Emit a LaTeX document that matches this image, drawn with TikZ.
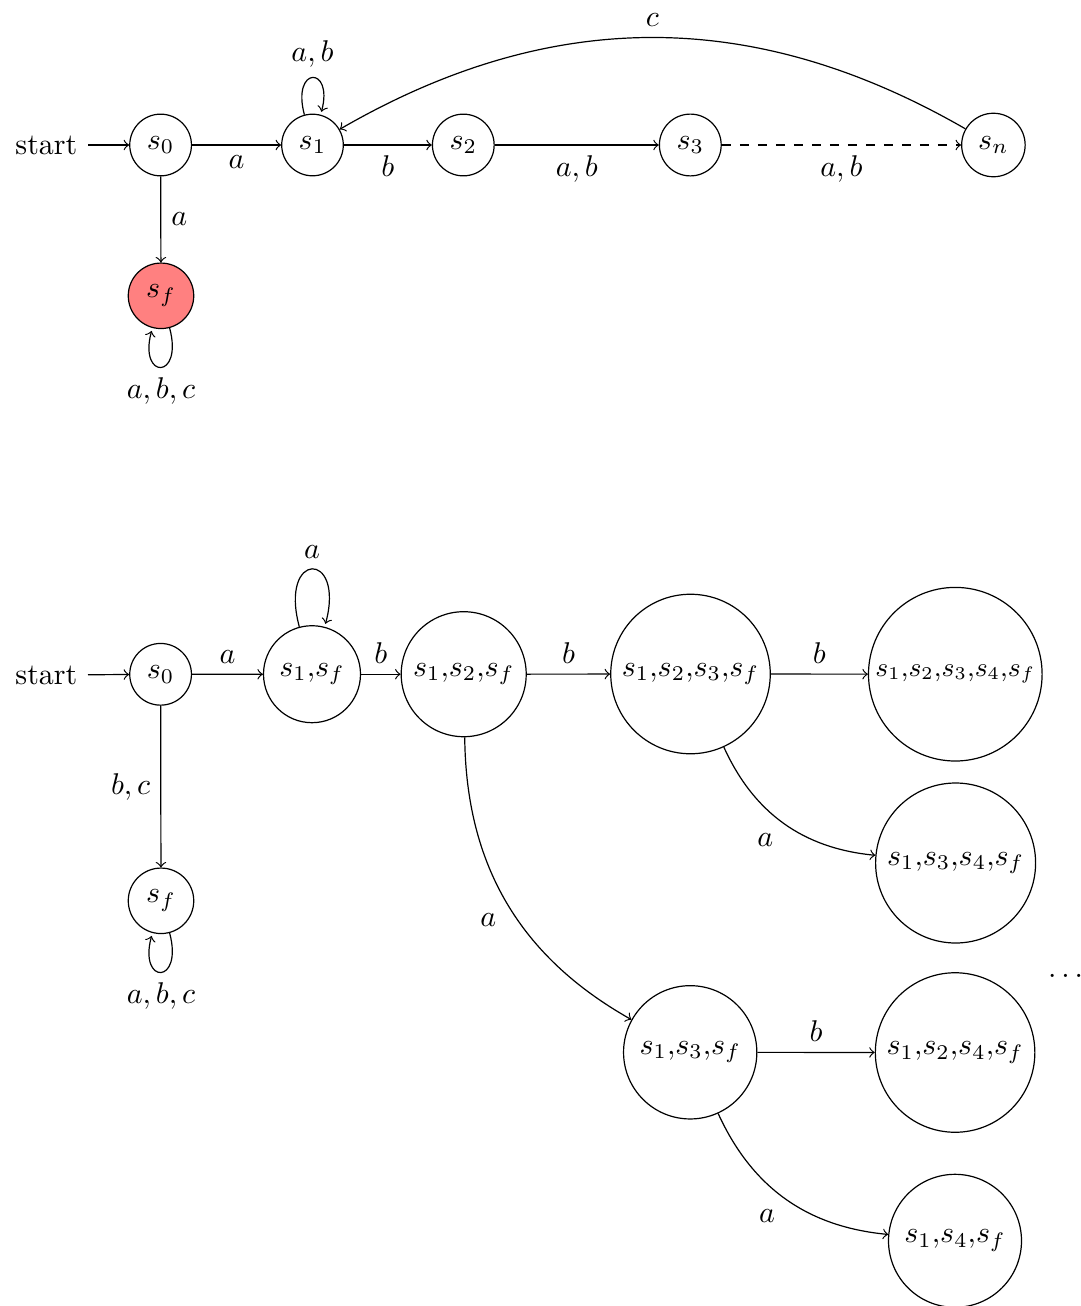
\documentclass[tikz,border=0pt]{standalone}
\usetikzlibrary{arrows.meta}
\begin{document}
\begin{tikzpicture}[x=0.33333pt, y=-0.33333pt,
  stt/.style={circle, draw, inner sep=0pt},
  every edge/.style={draw, ->},
  >=to]
\useasboundingbox (0,0) rectangle (1081,1306);

% ---------- top automaton ----------
\node[anchor=east] (st1) at (88,145) {start};
\node[stt, minimum size=20.57pt] (s0) at (160.6,145) {$s_0$};
\node[stt, minimum size=20.53pt] (s1) at (312.5,145) {$s_1$};
\node[stt, minimum size=20.57pt] (s2) at (463.3,145) {$s_2$};
\node[stt, minimum size=20.6pt]  (s3) at (690.3,145) {$s_3$};
\node[stt, minimum size=21.17pt] (sn) at (993.4,145) {$s_n$};
\node[stt, minimum size=21.83pt, fill=red!50] (sf) at (161,295.8) {$s_f$};

\path (st1) edge (s0)
      (s0) edge node[below] {$a$} (s1)
      (s1) edge node[below] {$b$} (s2)
      (s2) edge node[below] {$a,b$} (s3)
      (s3) edge[dashed] node[below] {$a,b$} (sn)
      (sn) edge[bend right=30] node[above] {$c$} (s1)
      (s1) edge[loop above] node[above] {$a,b$} ()
      (s0) edge node[right] {$a$} (sf)
      (sf) edge[loop below] node[below] {$a,b,c$} ();

% ---------- bottom automaton ----------
\node[anchor=east] (st2) at (88,675) {start};
\node[stt, minimum size=20.57pt] (t0) at (160.6,674.3) {$s_0$};
\node[stt, minimum size=32.33pt] (t1) at (312,674.2) {$s_1{,}s_f$};
\node[stt, minimum size=41.67pt] (t2) at (463.7,674.2) {$s_1{,}s_2{,}s_f$};
\node[stt, minimum size=53.17pt] (t3) at (690.5,674) {$s_1{,}s_2{,}s_3{,}s_f$};
\node[stt, minimum size=57.87pt, font=\small] (t4) at (955.3,674.2) {$s_1{,}s_2{,}s_3{,}s_4{,}s_f$};
\node[stt, minimum size=53.33pt] (t5) at (955.6,863) {$s_1{,}s_3{,}s_4{,}s_f$};
\node[stt, minimum size=44.43pt] (t6) at (690.2,1052.3) {$s_1{,}s_3{,}s_f$};
\node[stt, minimum size=53.17pt] (t7) at (955.1,1052.5) {$s_1{,}s_2{,}s_4{,}s_f$};
\node[stt, minimum size=44.33pt] (t8) at (955,1240.8) {$s_1{,}s_4{,}s_f$};
\node[stt, minimum size=21.83pt] (tf) at (161,900.8) {$s_f$};
\node (dots) at (1065.5,976) {$\ldots$};

\path (st2) edge (t0)
      (t0) edge node[above] {$a$} (t1)
      (t1) edge node[above] {$b$} (t2)
      (t2) edge node[above] {$b$} (t3)
      (t3) edge node[above] {$b$} (t4)
      (t1) edge[loop above] node[above] {$a$} ()
      (t0) edge node[left] {$b,c$} (tf)
      (tf) edge[loop below] node[below] {$a,b,c$} ()
      (t2) edge[bend right=30] node[auto, swap] {$a$} (t6)
      (t3) edge[bend right=30] node[auto, swap] {$a$} (t5)
      (t6) edge node[above] {$b$} (t7)
      (t6) edge[bend right=30] node[auto, swap] {$a$} (t8);
\end{tikzpicture}
\end{document}
